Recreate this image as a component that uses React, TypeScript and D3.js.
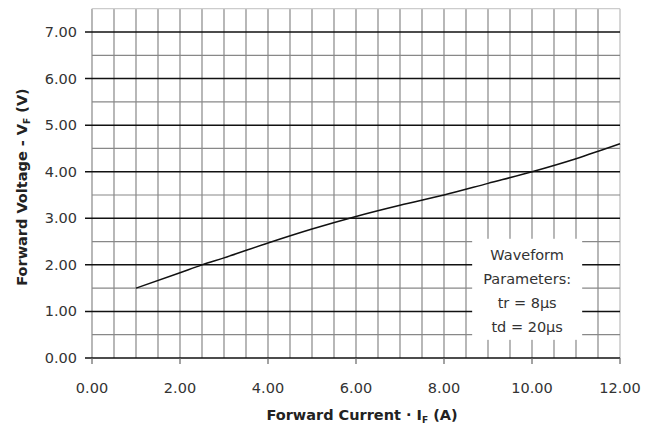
import React from "react";
import * as d3 from "d3";

// forward current (A) vs forward voltage (V)
const currentA = [1, 2, 2.5, 3, 4, 5, 6, 7, 8, 9, 10, 11, 12];
const voltageV = [1.5, 1.83, 2.0, 2.15, 2.47, 2.77, 3.04, 3.28, 3.5, 3.75, 4.0, 4.28, 4.6];

const xTicks = [0, 2, 4, 6, 8, 10, 12];
const yTicks = [0, 1, 2, 3, 4, 5, 6, 7];
const noteLines = ["Waveform", "Parameters:", "tr = 8\u00b5s", "td = 20\u00b5s"];

const W = 658;
const H = 432;
const FONT = "'DejaVu Sans', sans-serif";

export default function App() {
	const x = d3.scaleLinear().domain([0, 12]).range([92, 620]);
	const y = d3.scaleLinear().domain([0, 7]).range([358, 32]);

	const vGrid = d3.range(0, 12.01, 0.5);
	const hMinor = d3.range(0.5, 7.6, 1);
	const pts: [number, number][] = currentA.map((c, i) => [c, voltageV[i]]);
	const line = d3
		.line<[number, number]>()
		.x((d) => x(d[0]))
		.y((d) => y(d[1]))
		.curve(d3.curveMonotoneX);

	// note box sits on the grid, covering it
	const box = { x0: x(8.64), x1: x(11.14), y0: y(2.56), y1: y(0.39) };

	return (
		<svg
			width={W}
			height={H}
			style={{ position: "absolute", left: 0, top: 0, background: "#fff" }}
			fontFamily={FONT}>
			{/* vertical grid */}
			{vGrid.map((v) => (
				<line
					key={"v" + v}
					x1={x(v)}
					x2={x(v)}
					y1={y(7.5)}
					y2={y(0)}
					stroke={v === 12 ? "#bbb" : "#888"}
					strokeWidth={1.2}
				/>
			))}
			{/* minor horizontal grid */}
			{hMinor.map((v) => (
				<line
					key={"h" + v}
					x1={x(0)}
					x2={x(12)}
					y1={y(v)}
					y2={y(v)}
					stroke={v === 7.5 ? "#ccc" : "#888"}
					strokeWidth={1.2}
				/>
			))}
			{/* major horizontal grid */}
			{yTicks.map((v) => (
				<line
					key={"H" + v}
					x1={x(0) - 7}
					x2={x(12)}
					y1={y(v)}
					y2={y(v)}
					stroke="#111"
					strokeWidth={1.5}
				/>
			))}
			{/* x ticks */}
			{xTicks.map((v) => (
				<line
					key={"t" + v}
					x1={x(v)}
					x2={x(v)}
					y1={y(0)}
					y2={y(0) + 6}
					stroke="#666"
					strokeWidth={1.2}
				/>
			))}

			<rect x={box.x0} y={box.y0} width={box.x1 - box.x0} height={box.y1 - box.y0} fill="#fff" />
			{noteLines.map((t, i) => (
				<text
					key={t}
					x={(box.x0 + box.x1) / 2}
					y={260 + i * 24}
					textAnchor="middle"
					fontSize={14.5}
					fill="#333">
					{t}
				</text>
			))}

			<path d={line(pts) || ""} fill="none" stroke="#111" strokeWidth={1.5} />

			{/* tick labels */}
			{yTicks.map((v) => (
				<text key={"yl" + v} x={77} y={y(v) + 5} textAnchor="end" fontSize={14.5} fill="#333">
					{v.toFixed(2)}
				</text>
			))}
			{xTicks.map((v) => (
				<text key={"xl" + v} x={x(v)} y={393} textAnchor="middle" fontSize={14.5} fill="#333">
					{v.toFixed(2)}
				</text>
			))}

			{/* axis titles */}
			<text x={362} y={420} textAnchor="middle" fontSize={14.5} fontWeight="bold" fill="#222">
				Forward Current · I
				<tspan fontSize={9} dy={3}>F</tspan>
				<tspan dy={-3}> (A)</tspan>
			</text>
			<text
				transform={`translate(27,${187}) rotate(-90)`}
				textAnchor="middle"
				fontSize={14.5}
				fontWeight="bold"
				fill="#222">
				Forward Voltage - V
				<tspan fontSize={9} dy={3}>F</tspan>
				<tspan dy={-3}> (V)</tspan>
			</text>
		</svg>
	);
}
